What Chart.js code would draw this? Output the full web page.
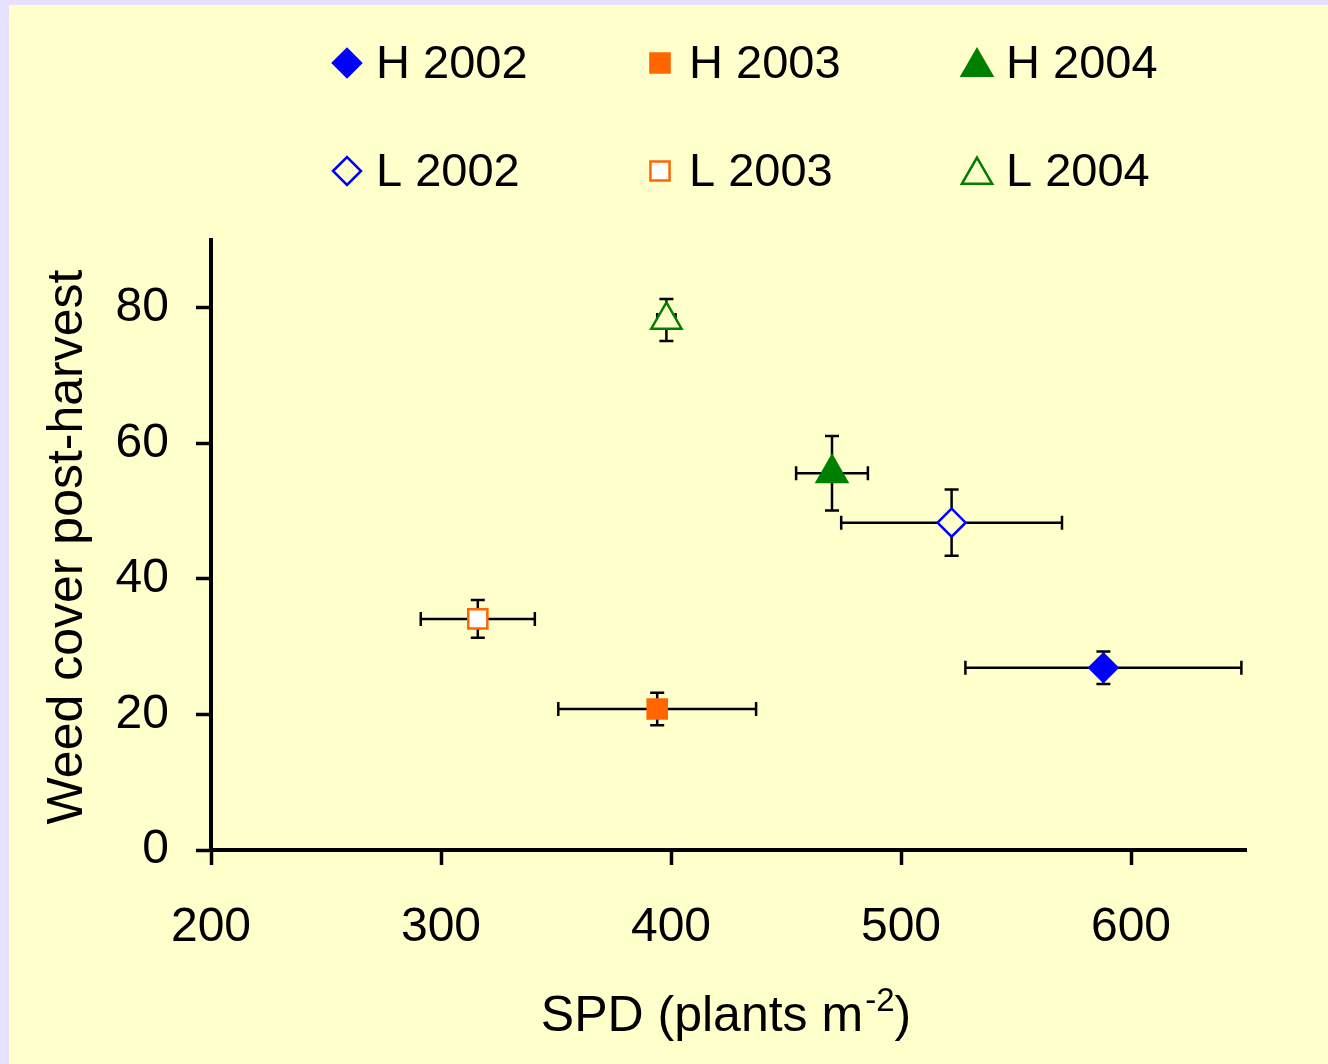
<!DOCTYPE html>
<html>
<head>
<meta charset="utf-8">
<script src="https://cdn.jsdelivr.net/npm/chart.js@4/dist/chart.umd.min.js"></script>
<style>
  html, body { margin: 0; padding: 0; background: #e6e1ff; }
  #wrap { position: absolute; left: 9px; top: 5px; width: 1319px; height: 1059px; background: #ffffcc; }
</style>
</head>
<body>
<div id="wrap"><canvas id="chartDiv" width="1319" height="1059"></canvas></div>
<script>
// data
const seriesNames = ['H 2002', 'H 2003', 'H 2004', 'L 2002', 'L 2003', 'L 2004'];
const spd = [588, 394, 470, 522, 316, 398];
const weedCover = [26.9, 20.8, 55.6, 48.3, 34.1, 78.2];
const spdErr = [60, 43, 15.6, 48, 24.8, 4];
const coverErr = [2.4, 2.4, 5.5, 4.9, 2.8, 3.1];
const xTicks = [200, 300, 400, 500, 600];
const yTicks = [0, 20, 40, 60, 80];

const FONT = "'Liberation Sans', Arial, sans-serif";

// marker styles, same order as seriesNames
const styles = [
  { shape: 'rectRot', r: 14, fill: '#0000ff', line: '#0000ff' },
  { shape: 'rect', r: 13.5, fill: '#ff6600', line: '#ff6600' },
  { shape: 'triangle', r: 17.5, fill: '#008000', line: '#008000' },
  { shape: 'rectRot', r: 14, fill: '#ffffcc', line: '#0000ff' },
  { shape: 'rect', r: 13.5, fill: '#ffffff', line: '#ff6600' },
  { shape: 'triangle', r: 17.5, fill: '#ffffcc', line: '#008000' }
];

const datasets = seriesNames.map((name, i) => ({
  label: name,
  data: [{ x: spd[i], y: weedCover[i] }],
  pointStyle: styles[i].shape,
  pointRadius: styles[i].r,
  pointHoverRadius: styles[i].r,
  backgroundColor: styles[i].fill,
  borderColor: styles[i].line,
  pointBorderWidth: 2.5,
  showLine: false
}));

// error bars (drawn under the markers)
const errorBars = {
  id: 'errorBars',
  beforeDatasetsDraw(chart) {
    const ctx = chart.ctx, xs = chart.scales.x, ys = chart.scales.y;
    const cap = 7;
    ctx.save();
    ctx.strokeStyle = '#000';
    ctx.lineWidth = 2.5;
    spd.forEach((x, i) => {
      const y = weedCover[i];
      const px = xs.getPixelForValue(x), py = ys.getPixelForValue(y);
      const x0 = xs.getPixelForValue(x - spdErr[i]), x1 = xs.getPixelForValue(x + spdErr[i]);
      const y0 = ys.getPixelForValue(y - coverErr[i]), y1 = ys.getPixelForValue(y + coverErr[i]);
      ctx.beginPath();
      ctx.moveTo(x0, py); ctx.lineTo(x1, py);
      ctx.moveTo(x0, py - cap); ctx.lineTo(x0, py + cap);
      ctx.moveTo(x1, py - cap); ctx.lineTo(x1, py + cap);
      ctx.moveTo(px, y0); ctx.lineTo(px, y1);
      ctx.moveTo(px - cap, y0); ctx.lineTo(px + cap, y0);
      ctx.moveTo(px - cap, y1); ctx.lineTo(px + cap, y1);
      ctx.stroke();
    });
    ctx.restore();
  }
};

// 3 x 2 legend and the axis titles
const extras = {
  id: 'extras',
  afterDraw(chart) {
    const ctx = chart.ctx;
    ctx.save();
    // legend
    const colX = [338, 651, 968], rowY = [58, 166];
    ctx.font = '47px ' + FONT;
    ctx.textBaseline = 'middle';
    ctx.textAlign = 'left';
    chart.data.datasets.forEach((ds, i) => {
      const cx = colX[i % 3], cy = rowY[Math.floor(i / 3)];
      const dy = ds.pointStyle === 'triangle' ? 4 : 0;
      ctx.fillStyle = ds.backgroundColor;
      ctx.strokeStyle = ds.borderColor;
      ctx.lineWidth = 2.5;
      Chart.helpers.drawPoint(ctx, { pointStyle: ds.pointStyle, radius: ds.pointRadius, rotation: 0, borderWidth: 2.5 }, cx, cy + dy);
      ctx.fillStyle = '#000';
      ctx.fillText(ds.label, cx + 29, cy + 2);
    });

    // x title with superscript
    ctx.fillStyle = '#000';
    ctx.textBaseline = 'alphabetic';
    const a = 'SPD (plants m', s = '-2', b = ')';
    ctx.font = '50px ' + FONT;
    const wa = ctx.measureText(a).width, wb = ctx.measureText(b).width;
    ctx.font = '33px ' + FONT;
    const ws = ctx.measureText(s).width;
    let x = 717 - (wa + ws + 2 + wb) / 2;
    ctx.font = '50px ' + FONT;
    ctx.fillText(a, x, 1026);
    x += wa;
    ctx.font = '33px ' + FONT;
    ctx.fillText(s, x + 2, 1006);
    x += ws + 2;
    ctx.font = '50px ' + FONT;
    ctx.fillText(b, x, 1026);

    // y title
    ctx.translate(73, 542);
    ctx.rotate(-Math.PI / 2);
    ctx.textAlign = 'center';
    ctx.fillText('Weed cover post-harvest', 0, 0);
    ctx.restore();
  }
};

const axisCommon = {
  grid: { drawOnChartArea: false, drawTicks: true, tickLength: 15, tickWidth: 3.5, tickColor: '#000' },
  border: { display: true, color: '#000', width: 4 }
};

const chart = new Chart(document.getElementById('chartDiv'), {
  type: 'scatter',
  data: { datasets: datasets },
  options: {
    responsive: false,
    animation: false,
    events: [],
    layout: { padding: { top: 235, right: 82, left: 0, bottom: 0 } },
    plugins: { legend: { display: false }, tooltip: { enabled: false } },
    scales: {
      x: Object.assign({}, axisCommon, {
        type: 'linear',
        min: 200,
        max: 650,
        afterBuildTicks: s => { s.ticks = xTicks.map(v => ({ value: v })); },
        afterFit: s => { s.height = 214; },
        ticks: { color: '#000', padding: 34, font: { family: FONT, size: 48 } }
      }),
      y: Object.assign({}, axisCommon, {
        type: 'linear',
        min: 0,
        max: 90,
        afterBuildTicks: s => { s.ticks = yTicks.map(v => ({ value: v })); },
        afterFit: s => { s.width = 202; },
        ticks: { color: '#000', padding: 27, font: { family: FONT, size: 48 } }
      })
    }
  },
  plugins: [errorBars, extras]
});
</script>
</body>
</html>
